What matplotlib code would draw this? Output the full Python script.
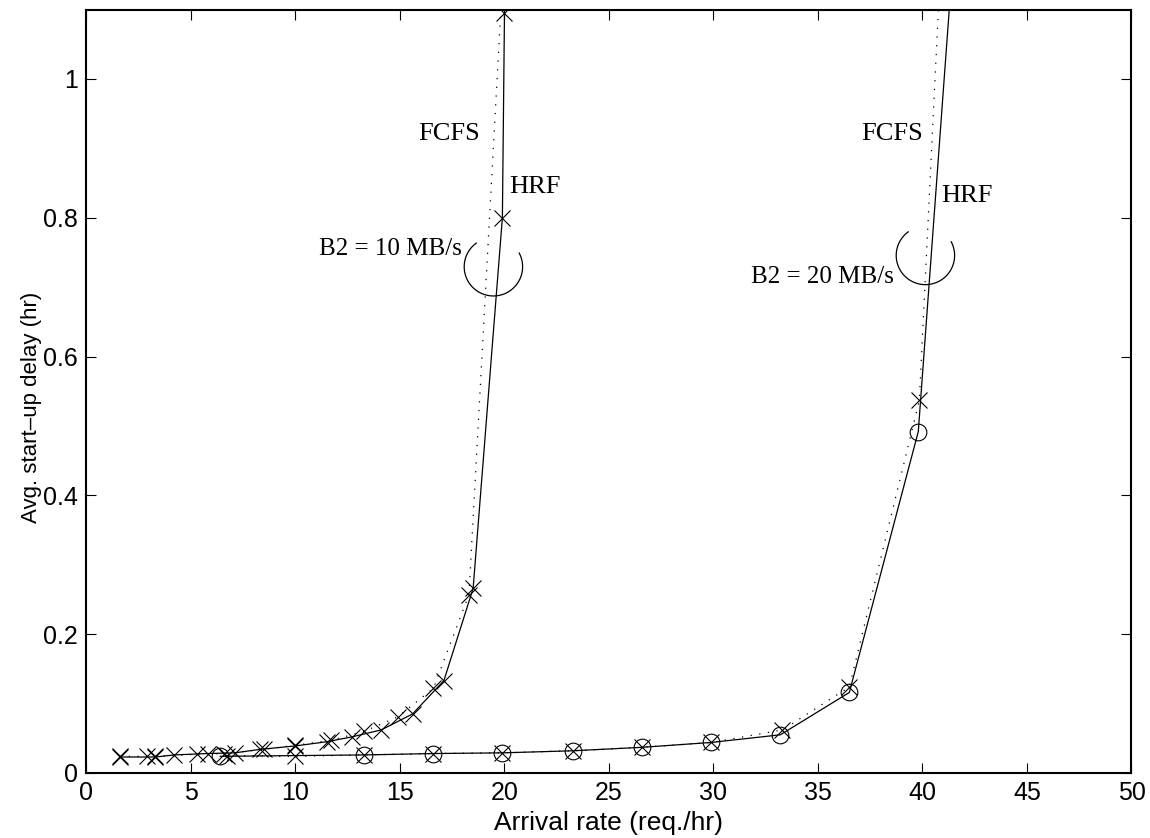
import numpy as np
import matplotlib
matplotlib.use('Agg')
import matplotlib.pyplot as plt

# B2 = 10 MB/s
fcfs10_rate = [1.6, 2.9, 3.3, 5.3, 6.6, 8.5, 10.0, 11.7, 13.3, 14.9, 16.6, 18.3, 20.1]
fcfs10_delay = [0.024, 0.024, 0.024, 0.027, 0.028, 0.034, 0.040, 0.047, 0.060, 0.081, 0.122, 0.257, 1.25]
hrf10_rate = [1.6, 3.3, 4.2, 5.8, 7.1, 8.3, 10.0, 11.5, 12.7, 14.1, 15.6, 17.1, 18.5, 19.9, 20.0]
hrf10_delay = [0.023, 0.023, 0.026, 0.028, 0.029, 0.034, 0.039, 0.045, 0.052, 0.062, 0.085, 0.133, 0.266, 0.80, 1.095]

# B2 = 20 MB/s
fcfs20_rate = [6.7, 10.0, 13.3, 16.6, 19.9, 23.3, 26.6, 29.9, 33.3, 36.5, 39.85, 41.2]
fcfs20_delay = [0.025, 0.024, 0.026, 0.028, 0.029, 0.032, 0.037, 0.044, 0.062, 0.124, 0.537, 1.37]
hrf20_rate = [6.4, 13.3, 16.6, 19.9, 23.3, 26.6, 29.9, 33.2, 36.5, 39.8, 41.5]
hrf20_delay = [0.024, 0.026, 0.028, 0.029, 0.032, 0.037, 0.044, 0.055, 0.116, 0.492, 1.19]

x_ticks = [0, 5, 10, 15, 20, 25, 30, 35, 40, 45, 50]
y_ticks = [0, 0.2, 0.4, 0.6, 0.8, 1.0]
y_tick_labels = ['0', '0.2', '0.4', '0.6', '0.8', '1']

fig = plt.figure(figsize=(11.5, 8.38), dpi=100)
ax = fig.add_axes([0.0752, 0.0776, 0.9087, 0.911])

dotted = (0, (1, 6))
mk = dict(markersize=12, markeredgewidth=0.8, fillstyle='none', color='black')

ax.plot(fcfs10_rate, fcfs10_delay, linestyle=dotted, linewidth=0.9, marker='x', **mk)
ax.plot(hrf10_rate, hrf10_delay, linestyle='-', linewidth=0.9, marker='x', **mk)
ax.plot(fcfs20_rate, fcfs20_delay, linestyle=dotted, linewidth=0.9, marker='x', **mk)
ax.plot(hrf20_rate, hrf20_delay, linestyle='-', linewidth=0.9, marker='o', **mk)

ax.set_xlim(0, 50)
ax.set_ylim(0, 1.1)
ax.set_xticks(x_ticks)
ax.set_yticks(y_ticks)
ax.set_yticklabels(y_tick_labels)

sans = ['Liberation Sans', 'DejaVu Sans']
serif = ['Liberation Serif', 'DejaVu Serif']
ax.tick_params(direction='in', top=True, right=True, length=7, width=0.8,
               labelsize=18, pad=6)
for lab in ax.get_xticklabels() + ax.get_yticklabels():
    lab.set_family(sans)
for sp in ax.spines.values():
    sp.set_linewidth(1.5)

ax.set_xlabel('Arrival rate (req./hr)', fontsize=19, family=sans, labelpad=4)
ax.set_ylabel('Avg. start\u2013up delay (hr)', fontsize=16, family=sans)
ax.yaxis.set_label_coords(-0.043, 0.479)

# curve labels
ax.text(18.83, 0.912, 'FCFS', ha='right', va='baseline', fontsize=19, family=serif)
ax.text(20.23, 0.835, 'HRF', ha='left', va='baseline', fontsize=19, family=serif)
ax.text(17.95, 0.746, 'B2 = 10 MB/s', ha='right', va='baseline', fontsize=18, family=serif)
ax.text(40.04, 0.912, 'FCFS', ha='right', va='baseline', fontsize=19, family=serif)
ax.text(40.92, 0.823, 'HRF', ha='left', va='baseline', fontsize=19, family=serif)
ax.text(38.64, 0.706, 'B2 = 20 MB/s', ha='right', va='baseline', fontsize=18, family=serif)

# open circles marking each pair of curves (radius ~29 px)
px_x = 1045.0 / 50
px_y = 763.4 / 1.1
t = np.deg2rad(np.linspace(126, 388, 120))
for cx, cy in [(19.47, 0.7294), (40.14, 0.7457)]:
    ax.plot(cx + 29.2 / px_x * np.cos(t), cy + 29.2 / px_y * np.sin(t),
            color='black', linewidth=0.9)

fig.savefig('out.png', dpi=100)
